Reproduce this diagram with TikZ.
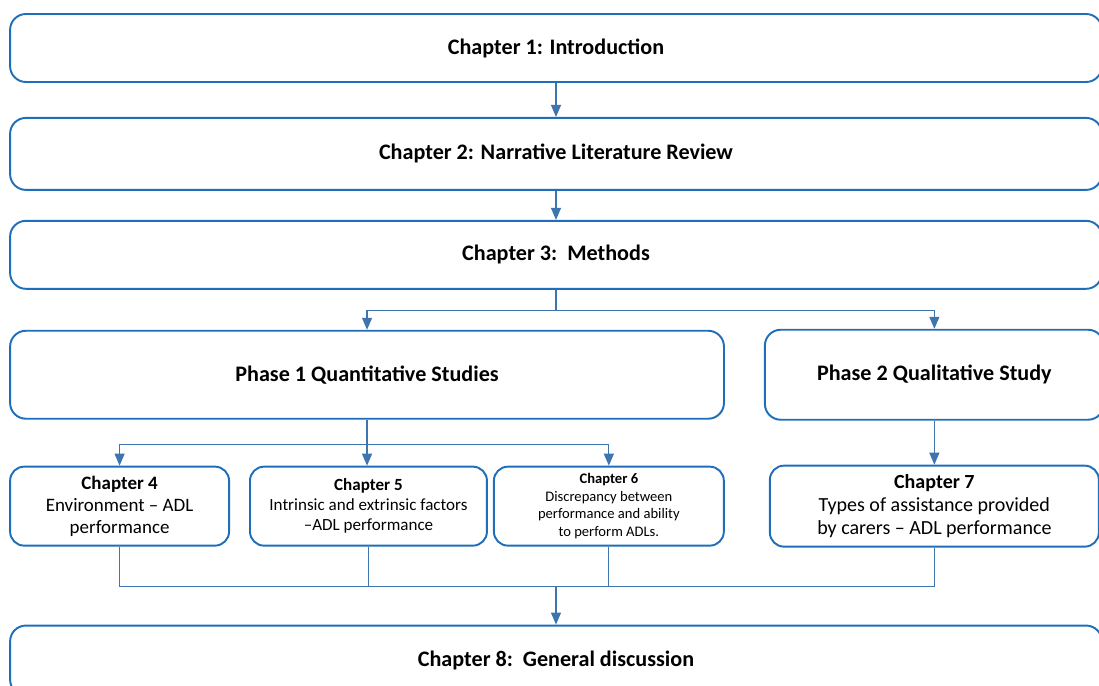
\documentclass[tikz,border=0pt]{standalone}
\usepackage{fontspec}
\setmainfont{Carlito}
\usepackage{xcolor}
\usepackage{tikz}
\usetikzlibrary{arrows.meta,positioning}

\definecolor{chblue}{HTML}{1F6EBA}
\definecolor{lnblue}{HTML}{3F75AE}

\begin{document}
\begin{tikzpicture}[
    x=0.02cm, y=-0.02cm,
    font=\fontsize{12.6}{15}\selectfont\bfseries,
    chap/.style={draw=chblue, fill=white, line width=1.1pt, rounded corners=9pt,
      align=center, inner sep=0pt, minimum width=21.84cm},
    sub/.style={draw=chblue, fill=white, line width=1.1pt, rounded corners=8pt,
      align=center, inner sep=0pt, minimum height=1.58cm},
    arrow/.style={-{Triangle[length=2.4mm, width=2mm]}, draw=lnblue,
      line width=0.7pt},
    link/.style={draw=lnblue, line width=0.7pt}
  ]
    \useasboundingbox (0,0) rectangle (1099,686);
    \node[chap, minimum height=1.36cm] (ch1) at (556,48) {Chapter 1: Introduction};
    \node[chap, minimum height=1.44cm, below=0.68cm of ch1] (ch2)
      {Chapter 2: Narrative Literature Review};
    \node[chap, minimum height=1.36cm, below=0.58cm of ch2] (ch3)
      {Chapter 3:\ \ Methods};
    \node[chap, minimum width=14.28cm, minimum height=1.76cm,
      below right=0.8cm and 0cm of ch3.south west] (ph1)
      {Phase 1 Quantitative Studies};
    \node[chap, minimum width=6.78cm, minimum height=1.8cm,
      right=0.78cm of ph1] (ph2) {Phase 2 Qualitative Study};
    \node[sub, minimum width=4.38cm, below right=0.92cm and 0cm of ph1.south west,
      font=\fontsize{10.8}{12.5}\selectfont] (ch4)
      {\textbf{Chapter 4}\\Environment -- ADL\\performance};
    \node[sub, minimum width=4.74cm, right=0.38cm of ch4,
      font=\fontsize{9.7}{11.3}\selectfont] (ch5)
      {\textbf{Chapter 5}\\Intrinsic and extrinsic factors\\--ADL performance};
    \node[sub, minimum width=4.6cm, right=0.1cm of ch5,
      font=\fontsize{8.3}{10}\selectfont] (ch6)
      {\textbf{Chapter 6}\\Discrepancy between\\performance and ability\\to perform ADLs.};
    \node[sub, minimum width=6.58cm, minimum height=1.62cm, below=0.88cm of ph2,
      font=\fontsize{11.4}{13}\selectfont] (ch7)
      {\textbf{Chapter 7}\\Types of assistance provided\\by carers -- ADL performance};
    \node[chap, minimum height=1.4cm, below right=1.56cm and 0cm of ch4.south west] (ch8)
      {Chapter 8:\ \ General discussion};
    % junctions
    \coordinate[below=0.42cm of ch3.south] (split1);
    \coordinate[below=0.5cm of ph1.south] (split2);
    \coordinate[below=0.8cm of ch4.south] (merge);
    \draw[arrow] (ch1) -- (ch2);
    \draw[arrow] (ch2) -- (ch3);
    \draw[arrow] (ch3.south) -- (split1) -| (ph1.north);
    \draw[arrow] (split1) -| (ph2.north);
    \draw[arrow] (ph1.south) -- (split2) -| (ch4.north);
    \draw[arrow] (split2) -- (split2 |- ch5.north);
    \draw[arrow] (split2) -| (ch6.north);
    \draw[arrow] (ph2) -- (ch7);
    \draw[link] (ch4.south) -- (merge) -| (ch7.south);
    \draw[link] (ch5.south) -- (ch5.south |- merge);
    \draw[link] (ch6.south) -- (ch6.south |- merge);
    \draw[arrow] (ch8.north |- merge) -- (ch8.north);
  \end{tikzpicture}
\end{document}
